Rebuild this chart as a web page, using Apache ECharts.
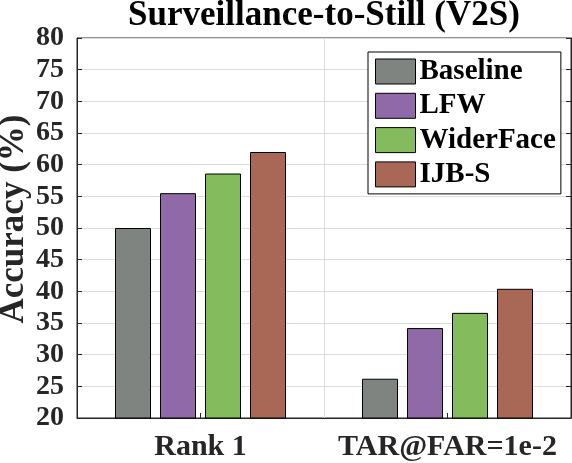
<!DOCTYPE html>
<html>
<head>
<meta charset="utf-8">
<script src="https://cdn.jsdelivr.net/npm/echarts@6/dist/echarts.min.js"></script>
<style>
  html, body { margin: 0; padding: 0; background: #fff; }
  #chart { width: 572px; height: 463px; }
</style>
</head>
<body>
<div id="chart"></div>
<script>
// data
var categories = ['Rank 1', 'TAR@FAR=1e-2'];
var seriesNames = ['Baseline', 'LFW', 'WiderFace', 'IJB-S'];
var baseline = [50.0, 26.2];
var lfw = [55.5, 34.2];
var widerFace = [58.6, 36.6];
var ijbs = [62.0, 40.4];
var colors = ['#7f8481', '#9069a8', '#84bb5d', '#a96856'];

var font = '"Liberation Serif", "Times New Roman", serif';
var ink = '#262626';

function bars(name, values, color) {
  return {
    name: name,
    type: 'bar',
    data: values,
    barWidth: 36,
    barGap: '25%',
    itemStyle: { color: color, borderColor: '#000', borderWidth: 1 }
  };
}

var chart = echarts.init(document.getElementById('chart'));
chart.setOption({
  animation: false,
  color: colors,
  title: {
    text: 'Surveillance-to-Still (V2S)',
    left: 324, top: -2, textAlign: 'center',
    padding: 0,
    textStyle: { fontFamily: font, fontWeight: 'bold', fontSize: 35, color: '#000' }
  },
  legend: {
    data: seriesNames,
    orient: 'vertical',
    left: 368, top: 52,
    itemWidth: 40, itemHeight: 25, itemGap: 5.3,
    padding: [5, 5, 5, 7],
    borderColor: '#000', borderWidth: 1,
    backgroundColor: '#fff',
    icon: 'rect',
    itemStyle: { borderColor: '#000', borderWidth: 1 },
    textStyle: { fontFamily: font, fontWeight: 'bold', fontSize: 29, color: '#000', padding: [0, 0, 0, -1] }
  },
  grid: {
    left: 77, right: 1, top: 38, bottom: 45,
    outerBoundsMode: 'none',
    show: true, borderColor: ink, borderWidth: 1
  },
  xAxis: {
    type: 'category',
    data: categories,
    axisLine: { lineStyle: { color: ink } },
    axisTick: { show: true, inside: true, alignWithLabel: true, length: 5, lineStyle: { color: ink } },
    splitLine: { show: true, lineStyle: { color: '#dcdcdc' } },
    axisLabel: { interval: 0, fontFamily: font, fontWeight: 'bold', fontSize: 30, color: ink, margin: 14 }
  },
  yAxis: [{
    type: 'value',
    min: 20, max: 80, interval: 5,
    name: 'Accuracy (%)',
    nameLocation: 'middle',
    nameGap: 46,
    nameMoveOverlap: false,
    nameTextStyle: { fontFamily: font, fontWeight: 'bold', fontSize: 35, color: ink, padding: [0, 0, 0, 18] },
    axisLine: { show: true, lineStyle: { color: ink } },
    axisTick: { show: true, inside: true, length: 5, lineStyle: { color: ink } },
    splitLine: { show: true, lineStyle: { color: '#dcdcdc' } },
    axisLabel: { fontFamily: font, fontWeight: 'bold', fontSize: 28, color: ink, margin: 13 }
  }, {
    type: 'value',
    position: 'right',
    min: 20, max: 80, interval: 5,
    axisLine: { show: true, lineStyle: { color: ink } },
    axisTick: { show: true, inside: true, length: 5, lineStyle: { color: ink } },
    splitLine: { show: false },
    axisLabel: { show: false }
  }],
  series: [
    bars(seriesNames[0], baseline, colors[0]),
    bars(seriesNames[1], lfw, colors[1]),
    bars(seriesNames[2], widerFace, colors[2]),
    bars(seriesNames[3], ijbs, colors[3])
  ]
});
</script>
</body>
</html>
